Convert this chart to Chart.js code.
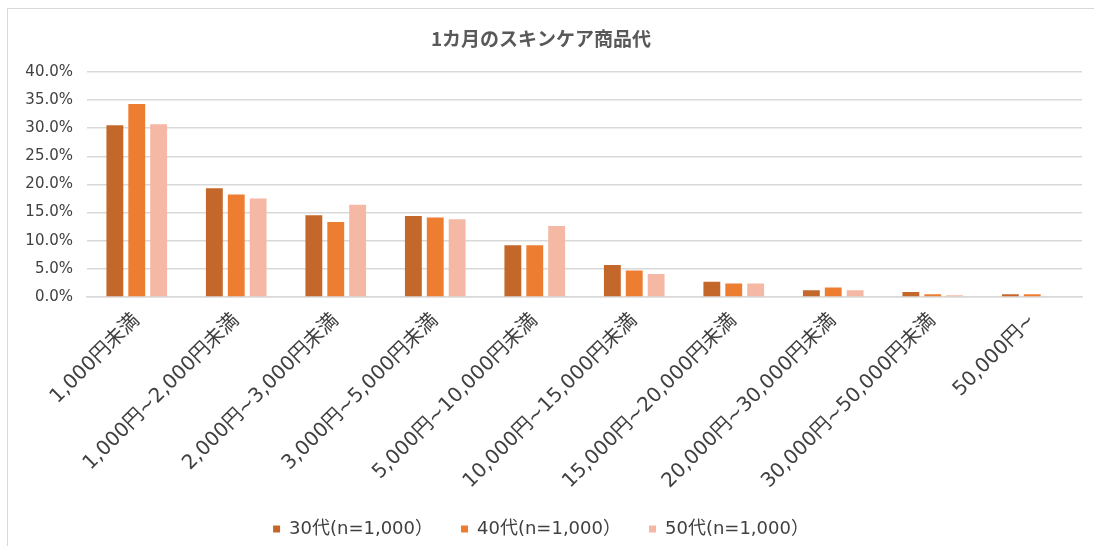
<!DOCTYPE html>
<html>
<head>
<meta charset="utf-8">
<script src="https://cdn.jsdelivr.net/npm/chart.js@4.4.0/dist/chart.umd.min.js"></script>
<style>
html,body{margin:0;padding:0;background:#fff;overflow:hidden;}
#wrap{position:relative;width:1094px;height:546px;}
#frame{position:absolute;left:7px;top:8px;width:1200px;height:600px;border:1.5px solid #d9d9d9;box-sizing:border-box;pointer-events:none;}
canvas{position:absolute;left:0;top:0;}
</style>
</head>
<body>
<div id="wrap">
<canvas id="c" width="1094" height="546"></canvas>
<div id="frame"></div>
</div>
<script>
const chartTitle = '1カ月のスキンケア商品代';
const categories = ['1,000円未満','1,000円~2,000円未満','2,000円~3,000円未満','3,000円~5,000円未満','5,000円~10,000円未満','10,000円~15,000円未満','15,000円~20,000円未満','20,000円~30,000円未満','30,000円~50,000円未満','50,000円~'];
const seriesNames = ['30代(n=1,000）','40代(n=1,000）','50代(n=1,000）'];
const values30 = [30.5, 19.3, 14.5, 14.4, 9.2, 5.7, 2.7, 1.2, 0.9, 0.5];
const values40 = [34.3, 18.2, 13.3, 14.1, 9.2, 4.7, 2.4, 1.7, 0.5, 0.5];
const values50 = [30.7, 17.5, 16.4, 13.8, 12.6, 4.1, 2.4, 1.2, 0.3, 0.0];
const yTicks = [0, 5, 10, 15, 20, 25, 30, 35, 40];
const colors = ['#C4672A', '#ED7D31', '#F4B8A4'];

const FONT = '"DejaVu Sans", "Noto Sans CJK JP", sans-serif';
const TFONT = '"Noto Sans CJK JP", sans-serif';
Chart.defaults.font.family = FONT;
Chart.defaults.color = '#404040';

new Chart(document.getElementById('c'), {
  type: 'bar',
  data: {
    labels: categories,
    datasets: [values30, values40, values50].map((v, i) => ({
      label: seriesNames[i],
      data: v,
      backgroundColor: colors[i],
      borderWidth: 0,
      barPercentage: 0.77,
      categoryPercentage: 0.66
    }))
  },
  options: {
    responsive: false,
    animation: false,
    layout: { padding: { left: 0, right: 12, top: 0, bottom: -2 } },
    plugins: {
      title: {
        display: true,
        text: chartTitle,
        color: '#595959',
        font: { size: 19, weight: 'bold', family: TFONT },
        padding: { top: 27, bottom: 22 }
      },
      legend: {
        position: 'bottom',
        labels: {
          boxWidth: 7, boxHeight: 7,
          font: { size: 18, family: FONT },
          color: '#404040',
          padding: 28
        }
      },
      tooltip: { enabled: false }
    },
    scales: {
      x: {
        grid: { display: false },
        border: { display: true, color: '#d9d9d9', width: 1.5 },
        ticks: {
          minRotation: 45, maxRotation: 45,
          autoSkip: false,
          font: { size: 20, family: FONT },
          color: '#404040',
          padding: 4
        },
        afterFit: s => { s.height = 195; }
      },
      y: {
        min: 0, max: 40,
        afterBuildTicks: s => { s.ticks = yTicks.map(v => ({ value: v })); },
        grid: { color: '#d9d9d9', lineWidth: 1.5, drawTicks: false },
        border: { display: false },
        ticks: {
          font: { size: 15, family: FONT },
          color: '#404040',
          padding: 14,
          callback: v => v.toFixed(1) + '%'
        },
        afterFit: s => { s.width = 87; }
      }
    }
  }
});
</script>
</body>
</html>
